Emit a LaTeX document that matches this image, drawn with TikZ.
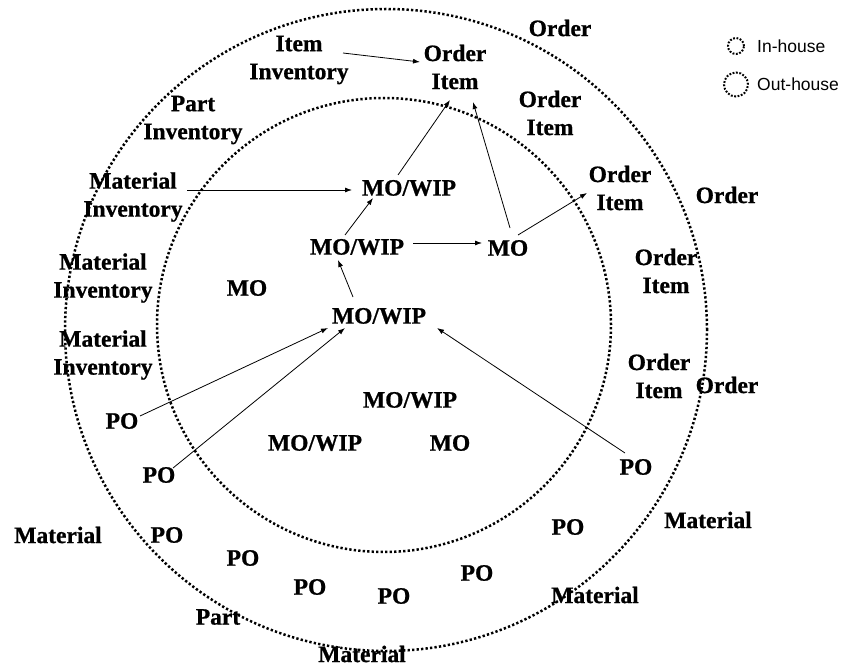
\documentclass[tikz,border=0pt]{standalone}
\usepackage{fontspec}
\setmainfont{Liberation Serif}[BoldFeatures={FakeBold=0.8}]
\newfontfamily\legendfont{Liberation Sans}
\usetikzlibrary{arrows.meta}
\begin{document}
\begin{tikzpicture}[x=1pt,y=-1pt,
  lbl/.style={font=\bfseries\fontsize{23.5}{28}\selectfont, align=center, inner sep=1pt},
  ring/.style={line width=2.5pt, dash pattern=on 2.3pt off 2.2pt},
  keyring/.style={line width=2pt, dash pattern=on 1.8pt off 1.6pt},
  arr/.style={line width=0.8pt, -{Latex[length=7pt,width=5pt]}},
  key/.style={font=\legendfont\fontsize{17.5}{20}\selectfont, anchor=west, inner sep=0pt}]
\useasboundingbox (0,0) rectangle (845,666);

% out-house and in-house boundaries
\draw[ring] (386,330) circle[radius=321pt];
\draw[ring] (384,325) circle[radius=227pt];

% legend
\draw[keyring] (736,46) circle[radius=8pt];
\draw[keyring] (736,84.5) circle[radius=12pt];
\node[key] (kin)  at (757,46.5) {In-house};
\node[key] (kout) at (757,84)   {Out-house};

% out-house ring
\node[lbl] (ord1) at (560,28)  {Order};
\node[lbl] (ii)   at (299,60)  {Item\\Inventory};
\node[lbl] (oi1)  at (455,67)  {Order\\Item};
\node[lbl] (oia)  at (550,113) {Order\\Item};
\node[lbl] (pi)   at (193,120) {Part\\Inventory};
\node[lbl] (mi1)  at (133,197) {Material\\Inventory};
\node[lbl] (oi2)  at (620,188) {Order\\Item};
\node[lbl] (ord2) at (727,195) {Order};
\node[lbl] (mi2)  at (103,278) {Material\\Inventory};
\node[lbl] (oi3)  at (666,271) {Order\\Item};
\node[lbl] (mi3)  at (103,355) {Material\\Inventory};
\node[lbl] (oi4)  at (659,376) {Order\\Item};
\node[lbl] (ord3) at (727,385) {Order};
\node[lbl] (po1)  at (122,421) {PO};
\node[lbl] (po2)  at (159,475) {PO};
\node[lbl] (po3)  at (636,467) {PO};
\node[lbl] (mat1) at (58,535)  {Material};
\node[lbl] (po4)  at (167,535) {PO};
\node[lbl] (po5)  at (568,527) {PO};
\node[lbl] (mat2) at (708,520) {Material};
\node[lbl] (po6)  at (243,558) {PO};
\node[lbl] (po7)  at (477,573) {PO};
\node[lbl] (po8)  at (310,587) {PO};
\node[lbl] (po9)  at (394,596) {PO};
\node[lbl] (mat3) at (595,595) {Material};
\node[lbl] (part) at (218,617) {Part};
\node[lbl] (mat4) at (362,654) {Material};

% in-house area
\node[lbl] (mw3) at (409,188) {MO/WIP};
\node[lbl] (mw2) at (357,247) {MO/WIP};
\node[lbl] (mo1) at (508,248) {MO};
\node[lbl] (mo2) at (247,288) {MO};
\node[lbl] (mw1) at (379,316) {MO/WIP};
\node[lbl] (mw4) at (410,400) {MO/WIP};
\node[lbl] (mw5) at (315,443) {MO/WIP};
\node[lbl] (mo3) at (450,443) {MO};

% flows
\draw[arr] ([shift={(44,-7)}]ii.center)   -- ([shift={(-35,-5)}]oi1.center);
\draw[arr] ([shift={(-11,-13)}]mw3.center) -- ([shift={(-5,33)}]oi1.center);
\draw[arr] ([shift={(2,-20)}]mo1.center)  -- ([shift={(18,35)}]oi1.center);
\draw[arr] ([shift={(10,-13)}]mo1.center) -- ([shift={(-33,5)}]oi2.center);
\draw[arr] ([shift={(54,-7)}]mi1.center)  -- ([shift={(-57,2)}]mw3.center);
\draw[arr] ([shift={(-12,-12)}]mw2.center) -- ([shift={(-36,10)}]mw3.center);
\draw[arr] ([shift={(56,-4)}]mw2.center)  -- ([shift={(-26,-5)}]mo1.center);
\draw[arr] ([shift={(-26,-19)}]mw1.center) -- ([shift={(-19,13)}]mw2.center);
\draw[arr] ([shift={(18,-5)}]po1.center)  -- ([shift={(-51,12)}]mw1.center);
\draw[arr] ([shift={(14,-7)}]po2.center)  -- ([shift={(-34,12)}]mw1.center);
\draw[arr] ([shift={(-11,-14)}]po3.center) -- ([shift={(58,12)}]mw1.center);
\end{tikzpicture}
\end{document}
